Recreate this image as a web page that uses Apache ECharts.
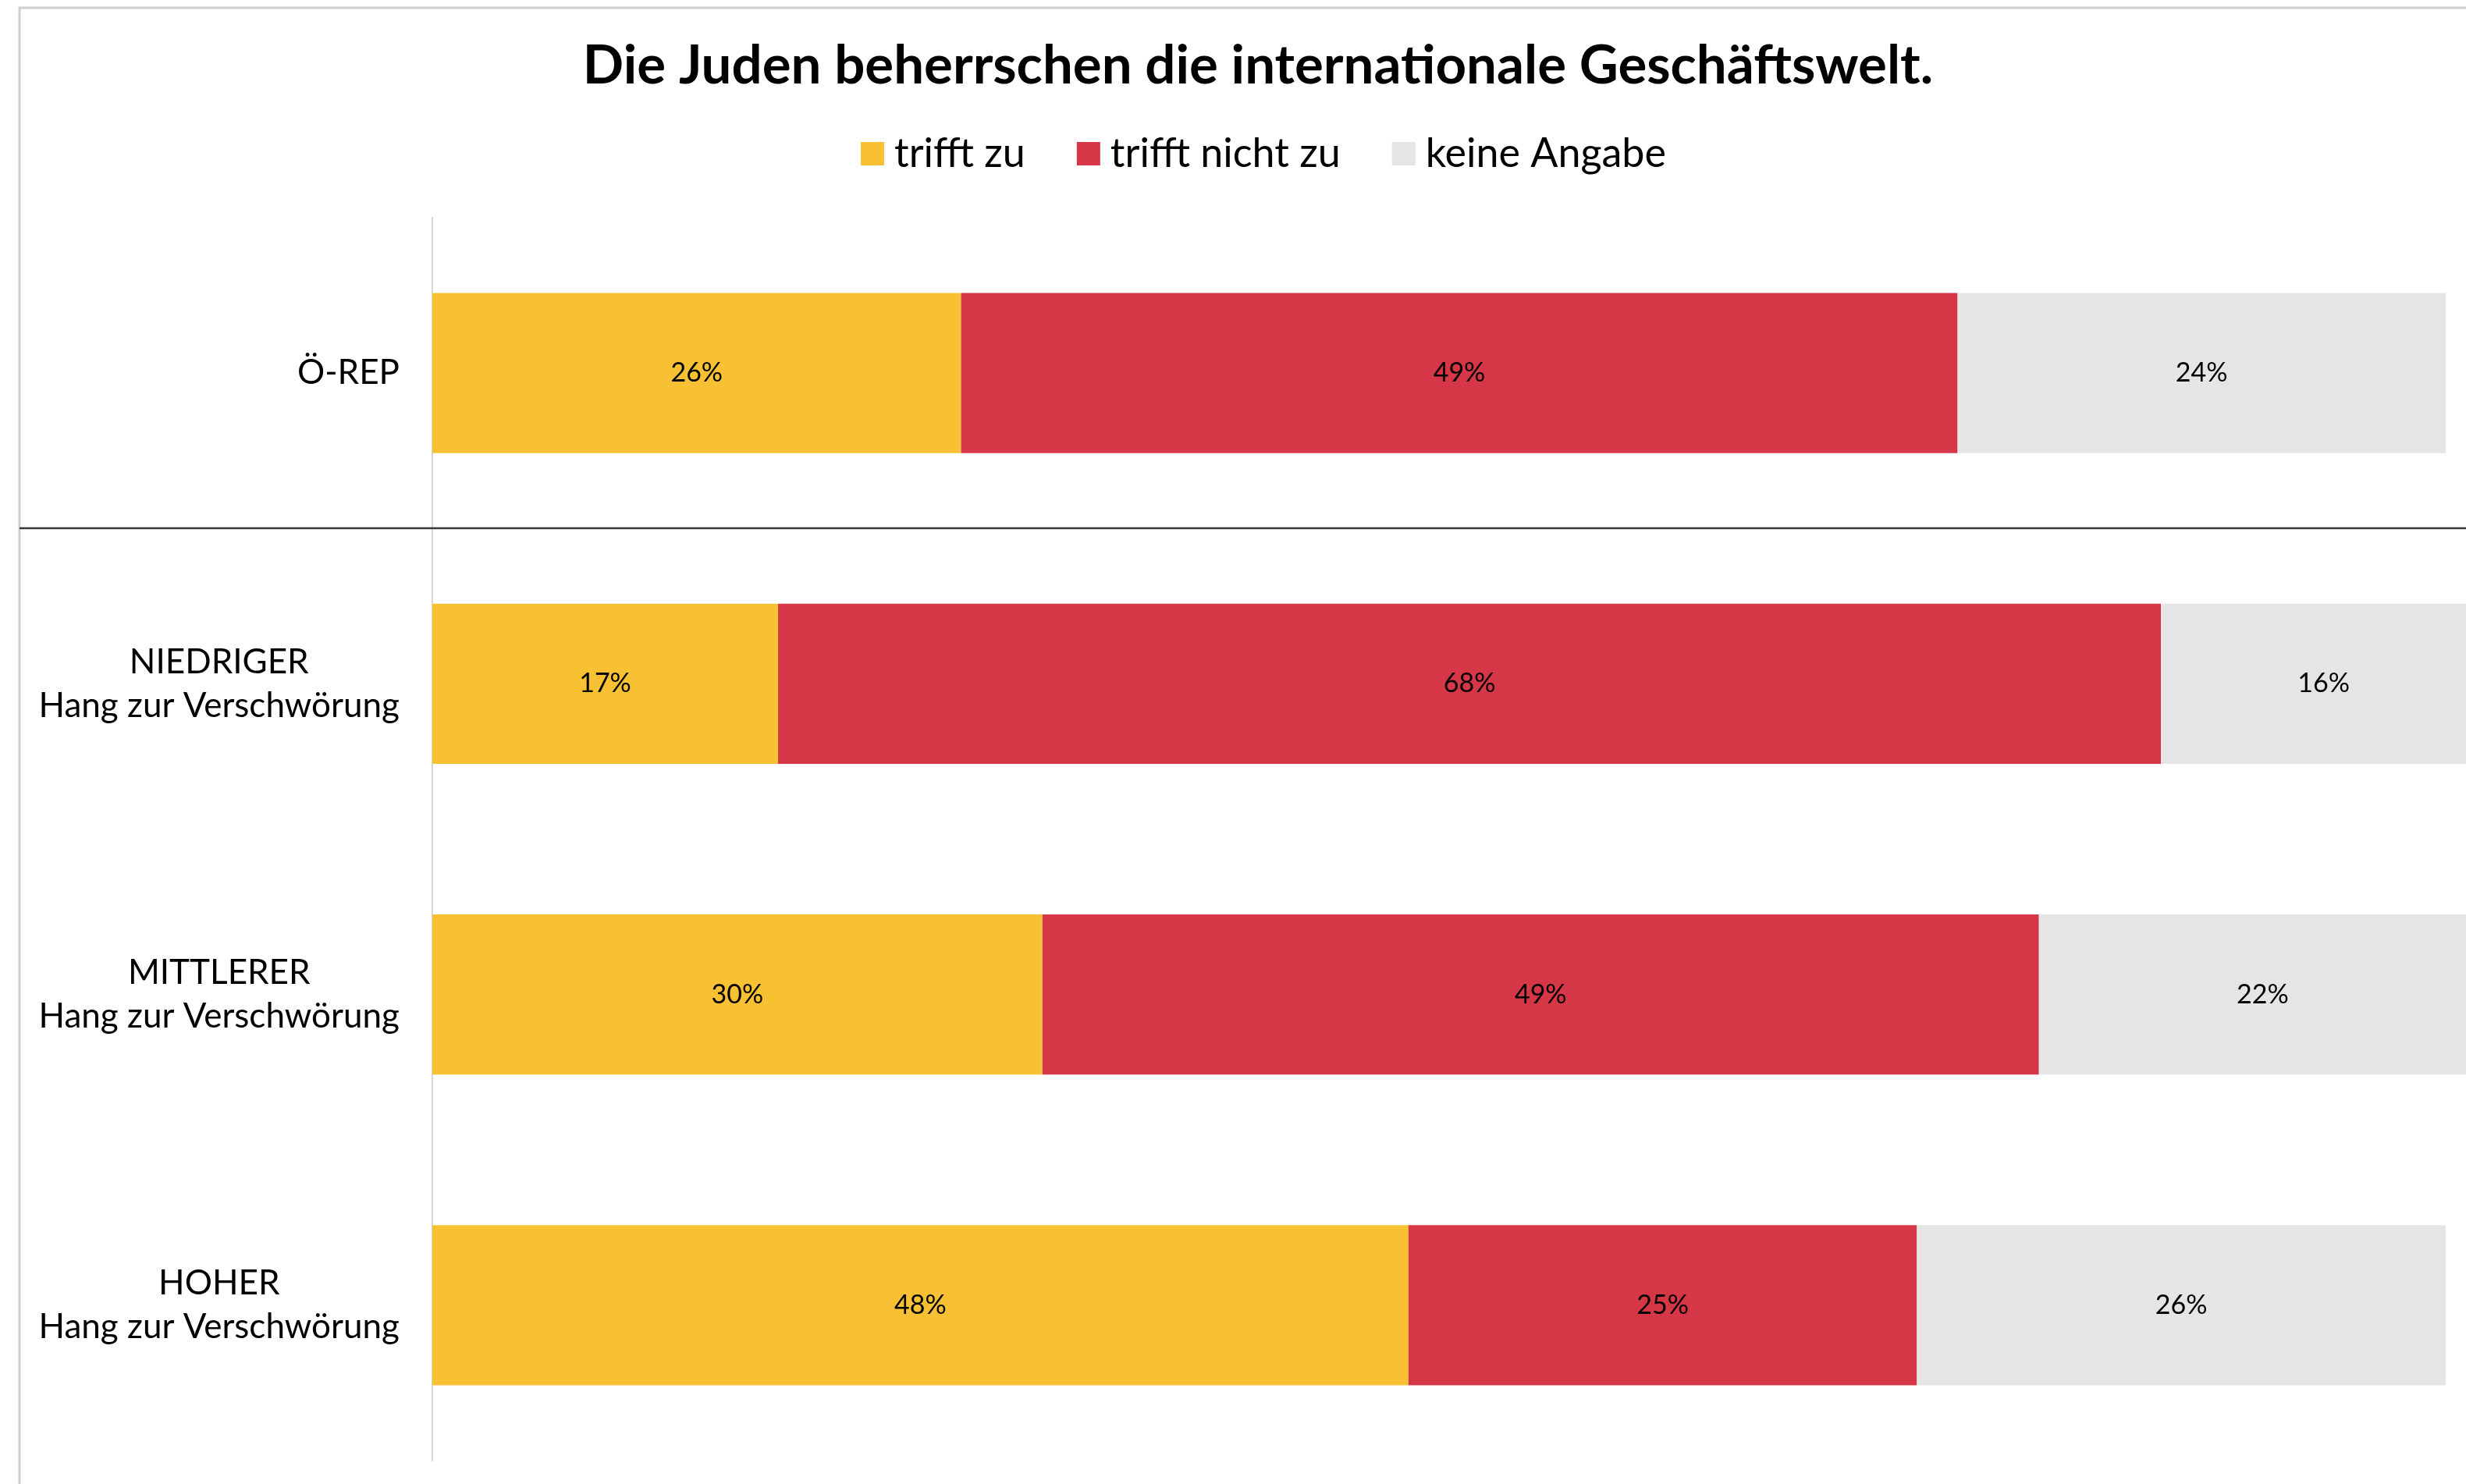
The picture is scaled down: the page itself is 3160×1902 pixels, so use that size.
<!DOCTYPE html>
<html>
<head>
<meta charset="utf-8">
<script src="https://cdn.jsdelivr.net/npm/echarts@6/dist/echarts.min.js"></script>
<style>
  html, body { margin: 0; padding: 0; background: #fff; }
  #chart { width: 3160px; height: 1902px; }
</style>
</head>
<body>
<div id="chart"></div>
<script>
const categories = ['Ö-REP', 'NIEDRIGER\nHang zur Verschwörung', 'MITTLERER\nHang zur Verschwörung', 'HOHER\nHang zur Verschwörung']
const seriesNames = ['trifft zu', 'trifft nicht zu', 'keine Angabe']
const trifftZu = [26, 17, 30, 48]
const trifftNichtZu = [49, 68, 49, 25]
const keineAngabe = [24, 16, 22, 26]

const colors = ['#F7C133', '#D53746', '#E5E5E5']
const font = 'Lato, "Noto Sans", sans-serif'

const chart = echarts.init(document.getElementById('chart'))

const makeSeries = (name, data) => ({
  name,
  type: 'bar',
  stack: 'total',
  barWidth: '51.5%',
  clip: false,
  data,
  label: {
    show: true,
    position: 'inside',
    formatter: '{c}%',
    color: '#000',
    fontFamily: font,
    fontSize: 34
  }
})

const option = {
  color: colors,
  backgroundColor: '#fff',
  animation: false,
  title: {
    text: 'Die Juden beherrschen die internationale Geschäftswelt.',
    left: 1612,
    textAlign: 'center',
    top: 50,
    padding: 0,
    textStyle: {
      fontFamily: font,
      fontWeight: 'bold',
      fontSize: 69,
      color: '#000'
    }
  },
  legend: {
    data: seriesNames,
    left: 1103,
    top: 171,
    padding: 0,
    itemWidth: 30,
    itemHeight: 30,
    itemGap: 66,
    icon: 'rect',
    textStyle: {
      fontFamily: font,
      fontSize: 52,
      color: '#000',
      padding: [0, 0, 0, 8]
    }
  },
  grid: {
    left: 554,
    right: 0,
    top: 279,
    bottom: 30,
    containLabel: false
  },
  xAxis: {
    type: 'value',
    min: 0,
    max: 100,
    show: false
  },
  yAxis: {
    type: 'category',
    data: categories,
    inverse: true,
    axisLine: { show: true, lineStyle: { color: '#d6d6d6', width: 2 } },
    axisTick: { show: false },
    splitLine: { show: false },
    axisLabel: {
      margin: 42,
      formatter: v => v.split('\n').map(l => '{c|' + l + '}').join('\n'),
      rich: {
        c: {
          align: 'center',
          fontFamily: font,
          fontSize: 44,
          lineHeight: 56,
          color: '#000'
        }
      }
    }
  },
  series: [
    makeSeries(seriesNames[0], trifftZu),
    makeSeries(seriesNames[1], trifftNichtZu),
    makeSeries(seriesNames[2], keineAngabe)
  ]
}

chart.setOption(option)

// separator between total population and the groups, plus the outer frame
const y0 = chart.convertToPixel({ yAxisIndex: 0 }, categories[0])
const y1 = chart.convertToPixel({ yAxisIndex: 0 }, categories[1])
const sepY = Math.round((y0 + y1) / 2)
const W = chart.getWidth()
const H = chart.getHeight()

chart.setOption({
  graphic: [
    {
      type: 'polyline',
      shape: { points: [[25, H], [25, 10], [W, 10]] },
      style: { stroke: '#cfcfcf', lineWidth: 3, fill: null },
      silent: true
    },
    {
      type: 'line',
      shape: { x1: 25, y1: sepY, x2: W, y2: sepY },
      style: { stroke: '#3a3a3a', lineWidth: 2.5 },
      silent: true,
      z: 10
    }
  ]
})
</script>
</body>
</html>
